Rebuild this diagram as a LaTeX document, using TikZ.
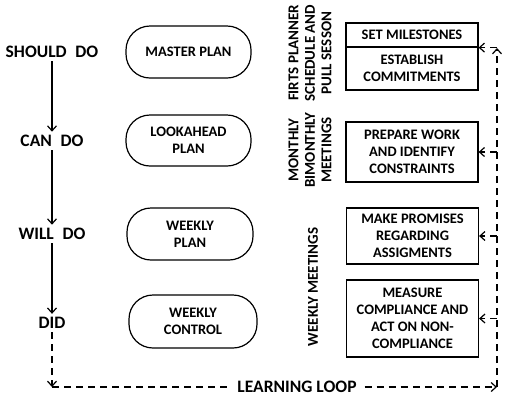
\documentclass[tikz,border=0pt]{standalone}
\usepackage{fontspec}
\setmainfont{Carlito}
\usepackage{xcolor}
\usetikzlibrary{arrows.meta,calc,positioning}
\newcommand{\stagefont}{\fontsize{17.5bp}{19bp}\selectfont\bfseries}
\newcommand{\planfont}{\fontsize{14.5bp}{17bp}\selectfont\bfseries}
\newcommand{\meetfont}{\fontsize{15bp}{16.5bp}\selectfont\bfseries}
\tikzset{%
	stage/.style    = {font=\stagefont, align=center}, % level of commitment
	plan/.style     = {draw, rectangle, rounded corners=24bp, line width=1.2bp, align=center, font=\planfont},
	task/.style     = {draw, rectangle, line width=1.2bp, align=center, font=\planfont, minimum width=132bp},
	meet/.style     = {font=\meetfont, align=center, rotate=90},
	flow/.style     = {line width=1.2bp, ->},
	loopline/.style = {line width=1.2bp, dash pattern=on 7bp off 5bp},
}

\begin{document}
\begin{tikzpicture}[x=1bp,y=-1bp,>={Straight Barb[length=5bp,width=9bp]}]
		\useasboundingbox (0,0) rectangle (509,402);
		\node [stage] (should) at (52,52) {SHOULD\enspace DO};
		\node [stage] (can) at (52,141) {CAN\enspace DO};
		\node [stage] (will) at (52,234) {WILL\enspace DO};
		\node [stage] (did) at (52,323) {DID};
		\draw[flow] (should) -- (can);
		\draw[flow] (can) -- (will);
		\draw[flow] (will) -- (did);
		
		\node [plan, minimum width=125bp, minimum height=52bp] (master) [right of=should,node distance=136.5bp] {MASTER PLAN};
		\node [plan, minimum width=125bp, minimum height=51bp] (lookahead) at (188.5,140.5) {LOOKAHEAD\\PLAN};
		\node [plan, minimum width=126bp, minimum height=52bp] (wplan) [right of=will,node distance=138bp] {WEEKLY\\PLAN};
		\node [plan, minimum width=128bp, minimum height=53bp] (wcontrol) at (193,321.5) {WEEKLY\\CONTROL};
		
		\node [meet] (fps) at (310,53) {FIRTS PLANNER\\SCHEDULE AND\\PULL SESSON};
		\node [meet] (monthly) at (310,150) {MONTHLY\\BIMONTHLY\\MEETINGS};
		\node [meet] (weekly) at (313,287) {WEEKLY MEETINGS};
		
		\node [task, minimum height=24bp] (set) at (412,35) {SET MILESTONES};
		\node [task, minimum height=43bp] (establish) [below=-1.2bp of set] {ESTABLISH\\COMMITMENTS};
		\node [task, minimum height=60bp] (prepare) at (412,152) {PREPARE WORK\\AND IDENTIFY\\CONSTRAINTS};
		\node [task, minimum height=56bp] (promises) at (412.5,236) {MAKE PROMISES\\REGARDING\\ASSIGMENTS};
		\node [task, minimum height=77bp] (measure) at (412.5,318.5) {MEASURE\\COMPLIANCE AND\\ACT ON NON-\\COMPLIANCE};
		
		% learning loop
		\coordinate (c1) at (52,387);
		\coordinate (c2) at (497,387);
		\coordinate (c3) at (497,48);
		\node [stage, inner xsep=8bp] (loop) at (297,387) {LEARNING LOOP};
		\draw[loopline,->] (did) -- (c1);
		\draw[loopline] (c1) -- (loop);
		\draw[loopline,->] (loop) -- (c2);
		\draw[loopline,->] (c2) -- (c3);
		\draw[loopline,->] (c2 |- set.south east) -- (set.south east);
		\foreach \t in {prepare,promises,measure}
			\draw[loopline,->] (c2 |- \t.east) -- (\t.east);
\end{tikzpicture}
\end{document}
